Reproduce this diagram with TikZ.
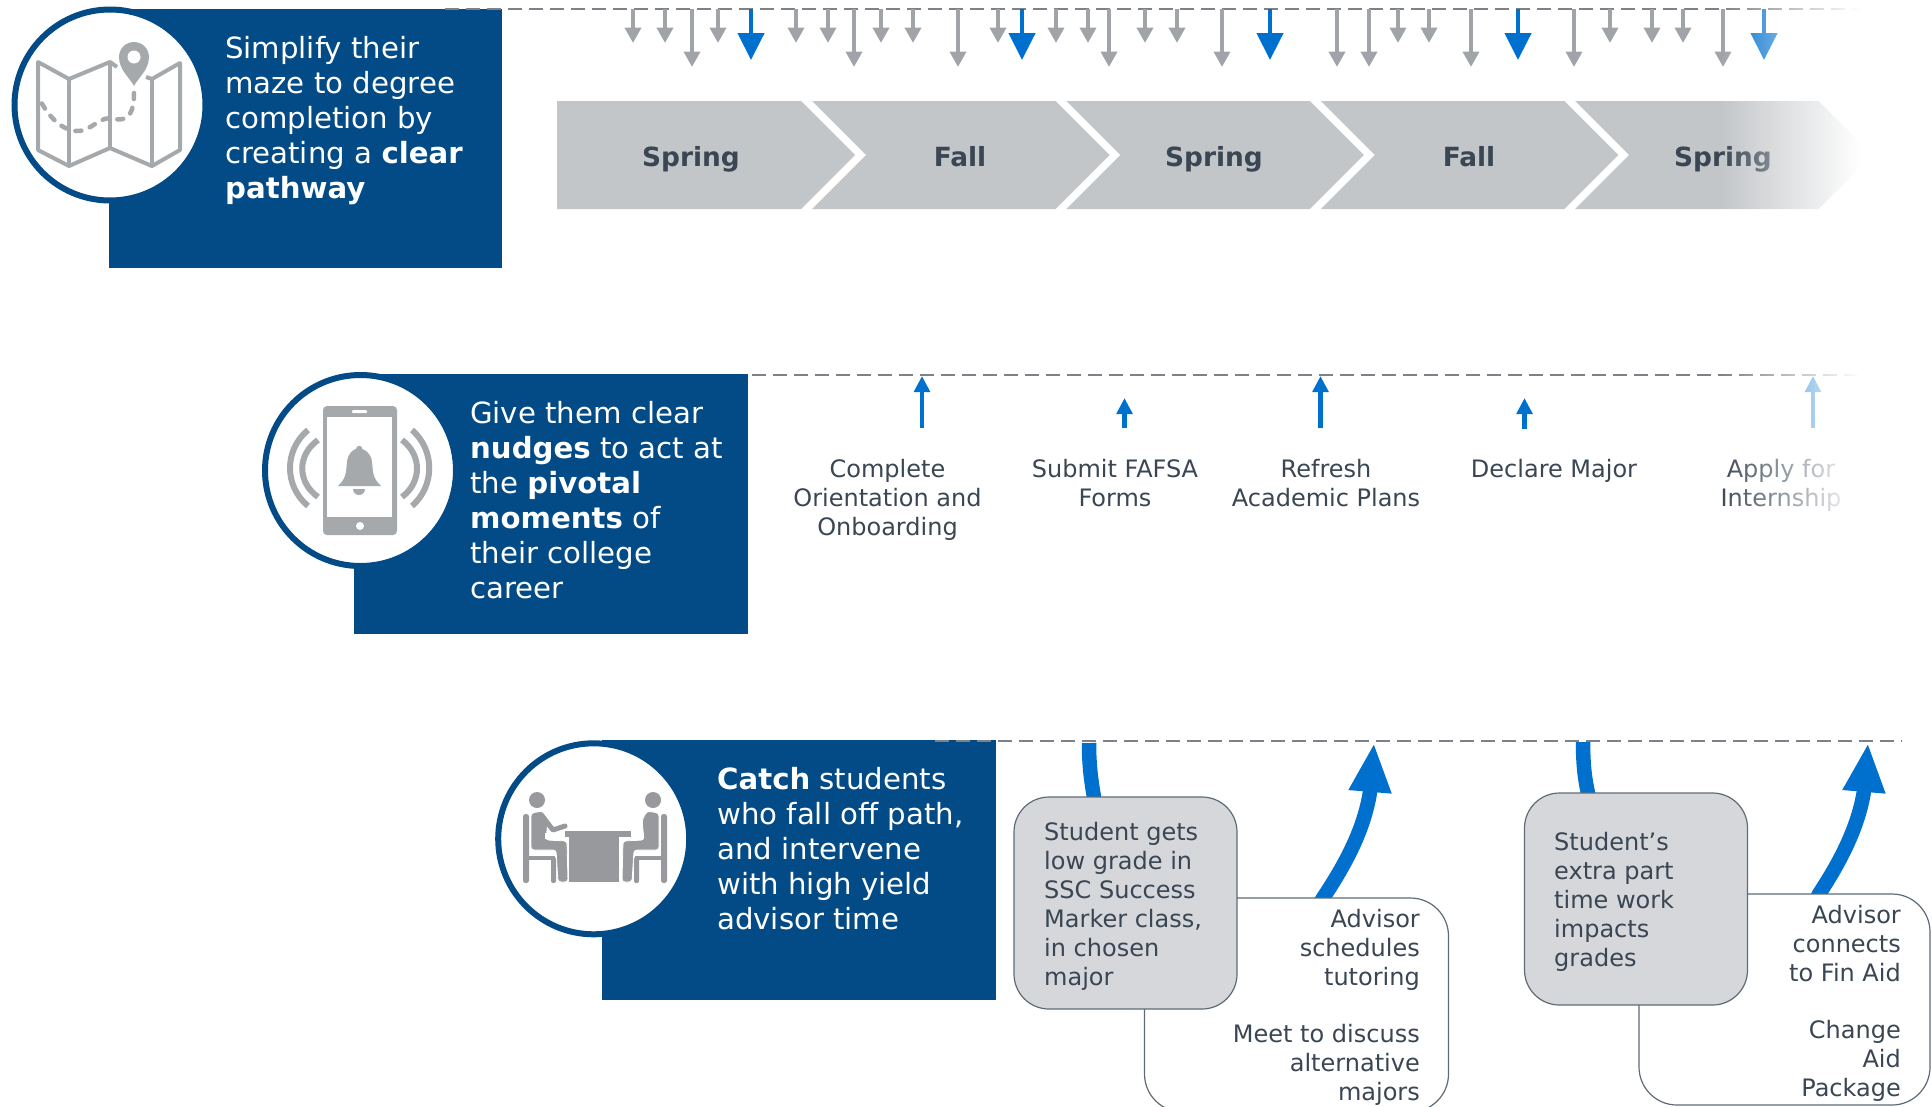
\documentclass[tikz,border=0pt]{standalone}
\usepackage{fontspec}
\setmainfont{DejaVu Sans}
\usetikzlibrary{arrows.meta,fadings}
\definecolor{navy}{HTML}{024B87}
\definecolor{blu}{HTML}{0070CE}
\definecolor{gar}{HTML}{A0A3A8}
\definecolor{ico}{HTML}{A5A9AC}
\definecolor{chev}{HTML}{C3C6C9}
\definecolor{ink}{HTML}{3A4653}
\definecolor{dash}{HTML}{7D8188}
\definecolor{gbox}{HTML}{D5D7DA}
\definecolor{edge}{HTML}{5F6A75}
\definecolor{meet}{HTML}{97999C}
\tikzfading[name=fadeIn,left color=transparent!100,right color=transparent!0]
\newcommand{\fa}{\rule{0pt}{1em}}
\tikzset{
  navybox/.style={fill=navy,inner sep=0,outer sep=0,minimum width=394pt,minimum height=260pt,anchor=north west},
  ring/.style={circle,draw=navy,fill=white,line width=6pt,minimum size=191pt,inner sep=0,outer sep=0},
  bigtext/.style={text=white,inner sep=0,anchor=north west,align=left,font=\fontsize{29.2}{35}\selectfont},
  smalltext/.style={text=ink,inner sep=0,font=\fontsize{24}{29}\selectfont},
  chevtext/.style={text=ink,inner sep=0,anchor=base,font=\fontsize{26.4}{32}\selectfont\bfseries},
  timeline/.style={draw=dash,line width=2.4pt,dash pattern=on 14pt off 7pt},
  sarrow/.style={draw=gar,line width=4pt,-{Triangle[length=15.5pt,width=16pt]}},
  barrow/.style={draw=blu,line width=4.5pt,-{Triangle[length=27pt,width=26pt]}},
  uarrow/.style={draw=blu,line width=4.5pt,-{Triangle[length=16pt,width=15.5pt]}},
  curvearrow/.style={draw=blu,line width=14.5pt,-{Triangle[length=49pt,width=39.5pt]}},
  graybox/.style={draw=edge,fill=gbox,line width=1.2pt,rounded corners=35pt,inner sep=0,outer sep=0,anchor=north west},
  whitebox/.style={draw=edge,fill=white,line width=1.2pt,rounded corners=38pt,inner sep=0,outer sep=0,anchor=north west},
  icoline/.style={draw=ico,line width=4pt,line join=round},
}
\begin{document}
\begin{tikzpicture}[x=1pt,y=-1pt]
\useasboundingbox (0,0) rectangle (1932,1106);
% ---- navy panels
\node[navybox,minimum height=259pt,minimum width=393pt] (p1) at (109,9) {};
\node[navybox] (p2) at (354,374) {};
\node[navybox] (p3) at (602,740) {};
\node[ring] (r1) at (110,105) {};
\node[ring] (r2) at (360.5,470.5) {};
\node[ring] (r3) at (593.7,838.8) {};
\node[bigtext] (b1) at (225,29) {\fa Simplify their\\maze to degree\\completion by\\creating a \textbf{clear}\\\textbf{pathway}};
\node[bigtext] (b2) at (470,394) {\fa Give them clear\\\textbf{nudges} to act at\\the \textbf{pivotal}\\\textbf{moments} of\\their college\\career};
\node[bigtext] (b3) at (717,760) {\fa \textbf{Catch} students\\who fall off path,\\and intervene\\with high yield\\advisor time};
% ---- time lines
\coordinate (l1a) at (445,8.7); \coordinate (l1b) at (1866,8.7);
\coordinate (l2a) at (752,375); \coordinate (l2b) at (1866,375);
\coordinate (l3a) at (935,741); \coordinate (l3b) at (1902,741);
\draw[timeline] (l1a) -- (l1b);
\draw[timeline] (l2a) -- (l2b);
\draw[timeline] (l3a) -- (l3b);
% ---- top arrows
\foreach \x in {633,665,718,796,828,881,913,998,1056,1088,1145,1177,1398,1429,1610,1652,1683}{
  \coordinate (ss\x) at (\x,9); \coordinate (se\x) at (\x,43);
  \draw[sarrow] (ss\x) -- (se\x);}
\foreach \x in {692,854,958,1109,1222,1337,1369,1471,1574,1723}{
  \coordinate (ls\x) at (\x,9); \coordinate (le\x) at (\x,67);
  \draw[sarrow] (ls\x) -- (le\x);}
\foreach \x in {751,1022,1270,1518,1764}{
  \coordinate (bs\x) at (\x,9); \coordinate (be\x) at (\x,60);
  \draw[barrow] (bs\x) -- (be\x);}
% ---- chevrons
\fill[chev] (557,101) -- (801,101) -- (855,155) -- (801,209) -- (557,209) -- cycle;
\foreach \o in {0,254.4,508.8,763.2}{
  \fill[chev,shift={(\o,0)}] (812,101) -- (1055.5,101) -- (1109.5,155) -- (1055.5,209) -- (812,209) -- (866,155) -- cycle;}
\node[chevtext] (c1) at (691,166) {Spring};
\node[chevtext] (c2) at (960,166) {Fall};
\node[chevtext] (c3) at (1214,166) {Spring};
\node[chevtext] (c4) at (1469,166) {Fall};
\node[chevtext] (c5) at (1723,166) {Spring};
% ---- nudges
\coordinate (n1a) at (922,428); \coordinate (n1b) at (922,376);
\coordinate (n2a) at (1124.5,428); \coordinate (n2b) at (1124.5,398);
\coordinate (n3a) at (1320.5,428); \coordinate (n3b) at (1320.5,376);
\coordinate (n4a) at (1524.5,429); \coordinate (n4b) at (1524.5,398);
\coordinate (n5a) at (1813,428); \coordinate (n5b) at (1813,376);
\foreach \i in {1,...,5}{\draw[uarrow] (n\i a) -- (n\i b);}
\node[smalltext,anchor=north,align=center] (t1) at (887.5,453) {\fa Complete\\Orientation and\\Onboarding};
\node[smalltext,anchor=north,align=center] (t2) at (1115,453) {\fa Submit FAFSA\\Forms};
\node[smalltext,anchor=north,align=center] (t3) at (1326,453) {\fa Refresh\\Academic Plans};
\node[smalltext,anchor=north,align=center] (t4) at (1554,453) {\fa Declare Major};
\node[smalltext,anchor=north,align=center] (t5) at (1781,453) {\fa Apply for\\Internship};
% ---- fade of the right end of the upper two rows
\fill[white,path fading=fadeIn] (1720,0) rectangle (1860,545);
\fill[white] (1859.5,0) rectangle (1932,545);
% ---- curved arrows and intervention boxes
\coordinate (a1s) at (1089,743); \coordinate (a1m) at (1094,797); \coordinate (a1n) at (1323,898); \coordinate (a1h) at (1370,792); \coordinate (a1t) at (1374,743);
\coordinate (a2s) at (1583,742); \coordinate (a2m) at (1588,793); \coordinate (a2n) at (1819,894); \coordinate (a2h) at (1864,791); \coordinate (a2t) at (1868,743);
\draw[curvearrow] (a1s) .. controls (1089,765) and (1091,780) .. (a1m) .. controls (1100,960) and (1290,960) .. (a1n) .. controls (1345,865) and (1364,830) .. (a1h) -- (a1t);
\draw[curvearrow] (a2s) .. controls (1583,765) and (1585,780) .. (a2m) .. controls (1600,960) and (1790,960) .. (a2n) .. controls (1840,862) and (1858,828) .. (a2h) -- (a2t);
\node[whitebox,minimum width=304pt,minimum height=214pt] (wa) at (1144.5,898) {};
\node[whitebox,minimum width=291pt,minimum height=211pt] (wb) at (1639,894) {};
\node[graybox,minimum width=223pt,minimum height=212pt] (ga) at (1014,797) {};
\node[graybox,minimum width=223pt,minimum height=212pt] (gb) at (1524.5,793) {};
\node[smalltext,anchor=north west,align=left] (gat) at (1044,816) {\fa Student gets\\low grade in\\SSC Success\\Marker class,\\in chosen\\major};
\node[smalltext,anchor=north west,align=left] (gbt) at (1554,826) {\fa Student’s\\extra part\\time work\\impacts\\grades};
\node[smalltext,anchor=north east,align=right] (wat) at (1420,903) {\fa Advisor\\schedules\\tutoring\\[28pt]Meet to discuss\\alternative\\majors};
\node[smalltext,anchor=north east,align=right] (wbt) at (1901,899) {\fa Advisor\\connects\\to Fin Aid\\[28pt]Change\\Aid\\Package};
% ---- map icon
\draw[icoline] (117,67) -- (110,62) -- (69,79) -- (38,62) -- (38,150) -- (69,166) -- (110,148) -- (152,166) -- (180,150) -- (180,63) -- (152,79) -- (146,77);
\draw[icoline] (69,79) -- (69,166);
\draw[icoline] (110,62) -- (110,148);
\draw[icoline] (152,79) -- (152,166);
\draw[ico,line width=4.5pt,line cap=round,dash pattern=on 6pt off 9pt] (134,93) .. controls (134,110) and (130,122) .. (115,119) .. controls (100,114) and (92,132) .. (76,131) .. controls (62,130) and (50,118) .. (41,102);
\fill[ico] (134,86) .. controls (130,78) and (119,70) .. (119,57) arc[start angle=180,end angle=360,radius=15] .. controls (149,70) and (138,78) .. (134,86) -- cycle;
\fill[white] (134,57) circle (6.5);
% ---- phone icon
\fill[ico,rounded corners=4pt] (323,406) rectangle (397,535);
\fill[white] (327,417) rectangle (392,517);
\fill[white,rounded corners=1pt] (352,410) rectangle (367,413);
\fill[white] (360,526) circle (4);
\fill[ico] (338,486) .. controls (347,478) and (346,470) .. (347,462) .. controls (348,453) and (353,450) .. (356,449) arc[start angle=180,end angle=360,radius=3.2] .. controls (365,450) and (371,453) .. (372,462) .. controls (373,470) and (372,478) .. (381,486) -- cycle;
\fill[ico] (353,489) arc[start angle=180,end angle=0,radius=6] -- cycle;
\draw[ico,line width=6pt] (308,430) .. controls (284,450) and (284,486) .. (308,506);
\draw[ico,line width=6pt] (318,440) .. controls (297,455) and (297,482) .. (318,497);
\draw[ico,line width=6pt] (412,430) .. controls (435,450) and (435,486) .. (412,506);
\draw[ico,line width=6pt] (402,440) .. controls (422,455) and (422,482) .. (402,497);
% ---- meeting icon
\fill[meet] (565,831) rectangle (631,837);
\fill[meet] (569,836) rectangle (619,882);
\foreach \m in {0,1}{
\begin{scope}[shift={(\m*1190,0)},xscale=1-2*\m]
  \fill[meet] (537,800) circle (8);
  \fill[meet,rounded corners=2.5pt] (523,814) rectangle (529,883);
  \fill[meet] (529,856) rectangle (555,860);
  \fill[meet,rounded corners=2pt] (551,857) rectangle (556,883);
  \filldraw[fill=meet,draw=white,line width=.8pt,rounded corners=3pt] (531,850) -- (531,813) -- (543,811) -- (548,820) -- (546,840) -- (567,841) -- (568,882) -- (558,882) -- (556,850) -- cycle;
\end{scope}}
\draw[meet,line width=5pt,line cap=round,line join=round] (543,817) -- (553,830) -- (565,826);
\fill[white] (545,833) -- (557,835) -- (557,840) -- (545,839) -- cycle;
\end{tikzpicture}
\end{document}
